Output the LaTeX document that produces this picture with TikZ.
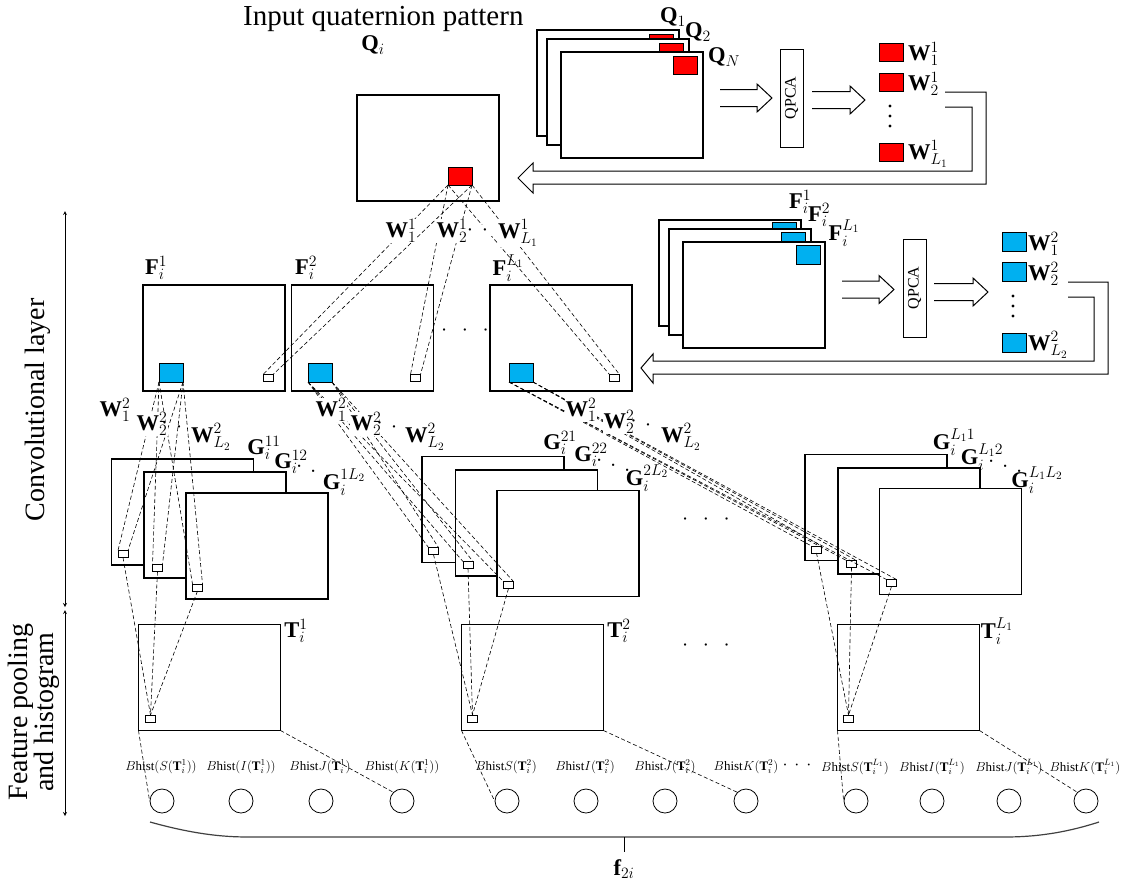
\RequirePackage{fix-cm}
\documentclass[tikz,border=0pt]{standalone}
\usepackage{amsmath}
\usepackage{fontspec}
\setmainfont{Liberation Serif}

\definecolor{patchblue}{RGB}{0,176,240}

\tikzset{
  frame/.style={draw, line width=1.7pt, fill=white, minimum width=142pt, minimum height=106pt, inner sep=0pt, outer sep=0pt},
  redpatch/.style={draw, line width=0.9pt, fill=red, minimum width=24pt, minimum height=18pt, inner sep=0pt, outer sep=0pt},
  bluepatch/.style={redpatch, fill=patchblue, minimum height=19pt},
  cell/.style={draw, line width=0.9pt, fill=white, minimum width=10pt, minimum height=7pt, inner sep=0pt, outer sep=0pt},
  link/.style={line width=0.6pt, dash pattern=on 4pt off 2.5pt},
  wlabel/.style={fill=white, inner sep=0.5pt, font=\fontsize{22.5}{24}\selectfont},
  glabel/.style={inner sep=0pt, font=\fontsize{22.5}{24}\selectfont},
  qpcabox/.style={draw, line width=1pt, minimum width=23pt, minimum height=98pt, inner sep=0pt, font=\fontsize{16}{18}\selectfont},
  hist/.style={circle, draw, line width=0.8pt, minimum size=24pt, inner sep=0pt},
  histlabel/.style={inner sep=0pt, font=\fontsize{13}{15}\selectfont},
  hollow/.style={line width=1pt, line join=miter}
}

% hollow block arrow: start x, tip x, y
\newcommand{\fatarrow}[3]{%
  \draw[hollow] (#1,#3-8.5) -- (#2-15,#3-8.5) -- (#2-15,#3-14) -- (#2,#3)
    -- (#2-15,#3+14) -- (#2-15,#3+8.5) -- (#1,#3+8.5);}

\begin{document}
\begin{tikzpicture}[x=1pt, y=-1pt, >=stealth]

\useasboundingbox (0,0) rectangle (1127,884);

% Input pattern
\node[font=\fontsize{29}{32}\selectfont, anchor=east] (title) at (527,19) {Input quaternion pattern};
\node[glabel] (Qlab) at (373,45) {$\mathbf{Q}_i$};
\node[frame] (Qi) at (428,148) {};
\node[redpatch] (Qp) at (460,176) {};

% Training patterns
\node[frame] (Qs1) at (608,83) {};
\node[redpatch] (Qsp1) at (661,43) {};
\node[frame] (Qs2) at (618,92) {};
\node[redpatch] (Qsp2) at (671,52) {};
\node[frame] (Qs3) at (632,105) {};
\node[redpatch] (Qsp3) at (685,65) {};
\node[glabel] at (673,17) {$\mathbf{Q}_1$};
\node[glabel] at (698,32) {$\mathbf{Q}_2$};
\node[glabel] at (724,57) {$\mathbf{Q}_N$};

% First QPCA
\fatarrow{720}{772}{98}
\node[qpcabox] (qpcaA) at (791.5,98) {\rotatebox{90}{QPCA}};
\fatarrow{812}{865}{100}

% First-stage filters
\node[redpatch] (WA1) at (891,52) {};
\node[redpatch] (WA2) at (891,82) {};
\node[redpatch] (WAL) at (891,152) {};
\node[glabel, anchor=west] at (908,54) {$\mathbf{W}_1^1$};
\node[glabel, anchor=west] at (908,84) {$\mathbf{W}_2^1$};
\node[glabel, anchor=west] at (908,154) {$\mathbf{W}_{L_1}^1$};
\fill (890,106) circle (1.7pt) (890,116) circle (1.7pt) (890,126) circle (1.7pt);

% Feedback arrow 1
\draw[hollow] (945,92) -- (986,92) -- (986,184) -- (533,184) -- (533,193) -- (518,178)
  -- (533,163) -- (533,171) -- (972,171) -- (972,107) -- (945,107);

% First-stage outputs
\node[frame] (F1) at (214,338) {};
\node[frame] (F2) at (362.5,338) {};
\node[frame] (FL) at (561,338) {};
\node[bluepatch] (Fp1) at (171,372.5) {};
\node[bluepatch] (Fp2) at (320,372.5) {};
\node[bluepatch] (FpL) at (521,372.5) {};
\node[cell] (Fc1) at (268,378) {};
\node[cell] (Fc2) at (415.5,378) {};
\node[cell] (FcL) at (614.5,378) {};
\node[glabel] at (156,268) {$\mathbf{F}_i^1$};
\node[glabel] at (306,268) {$\mathbf{F}_i^2$};
\node[glabel] at (508,268) {$\mathbf{F}_i^{L_1}$};
\node[font=\fontsize{22}{24}\selectfont] at (465,331) {$\cdot\;\,\cdot\;\,\cdot$};

% Stack of first-stage outputs
\node[frame] (Fs1) at (730,273) {};
\node[bluepatch] (Fsp1) at (784,232) {};
\node[frame] (Fs2) at (740,282) {};
\node[bluepatch] (Fsp2) at (793,242) {};
\node[frame] (Fs3) at (754,295) {};
\node[bluepatch] (Fsp3) at (808,255) {};
\node[glabel] at (800,202) {$\mathbf{F}_i^1$};
\node[glabel] at (819,215) {$\mathbf{F}_i^2$};
\node[glabel] at (844,233) {$\mathbf{F}_i^{L_1}$};

% Second QPCA
\fatarrow{842}{894}{289.5}
\node[qpcabox] (qpcaB) at (914.5,288) {\rotatebox{90}{QPCA}};
\fatarrow{934}{988}{292}

% Second-stage filters
\node[bluepatch] (WB1) at (1014,242) {};
\node[bluepatch] (WB2) at (1014,272) {};
\node[bluepatch] (WBL) at (1014,342.5) {};
\node[glabel, anchor=west] at (1028,244) {$\mathbf{W}_1^2$};
\node[glabel, anchor=west] at (1028,274) {$\mathbf{W}_2^2$};
\node[glabel, anchor=west] at (1028,345) {$\mathbf{W}_{L_2}^2$};
\fill (1013,296) circle (1.7pt) (1013,306) circle (1.7pt) (1013,316) circle (1.7pt);

% Feedback arrow 2
\draw[hollow] (1068,282) -- (1108,282) -- (1108,374) -- (653,374) -- (653,383) -- (641,368)
  -- (653,354) -- (653,361) -- (1094,361) -- (1094,297) -- (1068,297);

% Second-stage outputs
\node[frame] (G11) at (182.5,512) {};
\node[frame] (G12) at (215,525) {};
\node[frame] (G1L) at (257,546) {};
\node[cell] (g11) at (123,554) {};
\node[cell] (g12) at (157.5,568) {};
\node[cell] (g1L) at (197.5,587.5) {};

\node[frame] (G21) at (493,509.5) {};
\node[frame] (G22) at (526.5,523) {};
\node[frame] (G2L) at (568,543.5) {};
\node[cell] (g21) at (433.5,551) {};
\node[cell] (g22) at (468,565) {};
\node[cell] (g2L) at (508.5,585) {};

\node[frame] (GL1) at (876,507.5) {};
\node[frame] (GL2) at (909,521) {};
\node[frame] (GLL) at (950.5,541.5) {};
\node[cell] (gL1) at (816.5,549.5) {};
\node[cell] (gL2) at (851.5,564) {};
\node[cell] (gLL) at (891.5,583) {};

\node[font=\fontsize{22}{24}\selectfont] at (706,520) {$\cdot\;\,\cdot\;\,\cdot$};

% Pooled maps
\node[frame] (T1) at (209.5,677.5) {};
\node[frame] (T2) at (532.5,677.5) {};
\node[frame] (TL) at (908.5,677.5) {};
\node[cell] (t1) at (150.5,718.5) {};
\node[cell] (t2) at (472.5,718.5) {};
\node[cell] (tL) at (848.5,718.5) {};
\node[glabel] at (296,631) {$\mathbf{T}_i^1$};
\node[glabel] at (619,631) {$\mathbf{T}_i^2$};
\node[glabel] at (997,631) {$\mathbf{T}_i^{L_1}$};
\node[font=\fontsize{22}{24}\selectfont] at (706,646) {$\cdot\;\,\cdot\;\,\cdot$};

% Histogram bins
\foreach \n/\x in {1/162,2/241,3/321,4/402,5/507,6/586,7/665,8/746,9/856,10/932,11/1009,12/1086}
  \node[hist] (h\n) at (\x,801) {};

% Dashed links, first stage
\foreach \c in {Fc1,Fc2,FcL} {
  \draw[link] (Qp.south west) -- (\c.north west);
  \draw[link] (Qp.south east) -- (\c.north east);
}
% Dashed links, second stage
\foreach \c in {g11,g12,g1L} {
  \draw[link] (Fp1.south west) -- (\c.north west);
  \draw[link] (Fp1.south east) -- (\c.north east);
  \draw[link] (\c.south) -- (t1.north);
}
\foreach \c in {g21,g22,g2L} {
  \draw[link] (Fp2.south west) -- (\c.north west);
  \draw[link] (Fp2.south east) -- (\c.north east);
  \draw[link] (\c.south) -- (t2.north);
}
\foreach \c in {gL1,gL2,gLL} {
  \draw[link] (FpL.south west) -- (\c.north west);
  \draw[link] (FpL.south east) -- (\c.north east);
  \draw[link] (\c.south) -- (tL.north);
}
% Dashed links to the histogram
\draw[link] (T1.south west) -- (h1.west);
\draw[link] (T1.south east) -- (h4.north west);
\draw[link] (T2.south west) -- (h5.west);
\draw[link] (T2.south east) -- (h8.north west);
\draw[link] (TL.south west) -- (h9.west);
\draw[link] (TL.south east) -- (h12.north west);

% Filter labels on the links
\node[wlabel] at (401,231) {$\mathbf{W}_1^1$};
\node[wlabel] at (452,231) {$\mathbf{W}_2^1$};
\node[wlabel] at (485,230) {$\cdot\,\cdot\,\cdot$};
\node[wlabel] at (518,233) {$\mathbf{W}_{L_1}^1$};

\node[wlabel] at (115,410) {$\mathbf{W}_1^2$};
\node[wlabel] at (152,424) {$\mathbf{W}_2^2$};
\node[glabel, rotate=-15] at (179,427) {$\cdot\,\cdot\,\cdot$};
\node[wlabel] at (211,437) {$\mathbf{W}_{L_2}^2$};

\node[wlabel] at (331,410) {$\mathbf{W}_1^2$};
\node[wlabel] at (366,424) {$\mathbf{W}_2^2$};
\node[glabel, rotate=-15] at (394,427) {$\cdot\,\cdot\,\cdot$};
\node[wlabel] at (425,437) {$\mathbf{W}_{L_2}^2$};

\node[wlabel] at (581,410) {$\mathbf{W}_1^2$};
\node[wlabel] at (619,422) {$\mathbf{W}_2^2$};
\node[glabel, rotate=-15] at (648,425) {$\cdot\,\cdot\,\cdot$};
\node[wlabel] at (681,437) {$\mathbf{W}_{L_2}^2$};

% Output labels
\node[glabel] at (264,448) {$\mathbf{G}_i^{11}$};
\node[glabel] at (291,462) {$\mathbf{G}_i^{12}$};
\node[glabel, rotate=-20] at (313,472) {$\cdot\,\cdot\,\cdot$};
\node[glabel] at (344,482) {$\mathbf{G}_i^{1L_2}$};

\node[glabel] at (560,443) {$\mathbf{G}_i^{21}$};
\node[glabel] at (591,455) {$\mathbf{G}_i^{22}$};
\node[glabel, rotate=-20] at (613,466) {$\cdot\,\cdot\,\cdot$};
\node[glabel] at (647,478) {$\mathbf{G}_i^{2L_2}$};

\node[glabel] at (954,442) {$\mathbf{G}_i^{L_11}$};
\node[glabel] at (982,457) {$\mathbf{G}_i^{L_12}$};
\node[glabel, rotate=-20] at (1005,467) {$\cdot\,\cdot\,\cdot$};
\node[glabel] at (1037,480) {$\mathbf{G}_i^{L_1L_2}$};

% Histogram labels
\node[histlabel] at (161,767) {$B\mathrm{hist}(S(\mathbf{T}_i^1))$};
\node[histlabel] at (241,767) {$B\mathrm{hist}(I(\mathbf{T}_i^1))$};
\node[histlabel] at (320,767) {$B\mathrm{hist}J(\mathbf{T}_i^1)$};
\node[histlabel] at (402,767) {$B\mathrm{hist}(K(\mathbf{T}_i^1))$};
\node[histlabel] at (506,767) {$B\mathrm{hist}S(\mathbf{T}_i^2)$};
\node[histlabel] at (585,767) {$B\mathrm{hist}I(\mathbf{T}_i^2)$};
\node[histlabel] at (665,767) {$B\mathrm{hist}J(\mathbf{T}_i^2)$};
\node[histlabel] at (746,767) {$B\mathrm{hist}K(\mathbf{T}_i^2)$};
\node[histlabel, font=\fontsize{18}{20}\selectfont] at (797,765) {$\cdot\,\cdot\,\cdot$};
\node[histlabel] at (855,767) {$B\mathrm{hist}S(\mathbf{T}_i^{L_1})$};
\node[histlabel] at (932,767) {$B\mathrm{hist}I(\mathbf{T}_i^{L_1})$};
\node[histlabel] at (1009,767) {$B\mathrm{hist}J(\mathbf{T}_i^{L_1})$};
\node[histlabel] at (1085,767) {$B\mathrm{hist}K(\mathbf{T}_i^{L_1})$};

% Feature vector brace
\coordinate (braceL) at (150,822);
\coordinate (braceR) at (1099,822);
\coordinate (braceM) at (624,837);
\draw[line width=1.2pt, black!75] (braceL) .. controls (200,836) and (230,837) .. (250,837)
  -- (1005,837) .. controls (1035,837) and (1065,833) .. (braceR);
\node[glabel] (f2i) at (624,869) {$\mathbf{f}_{2i}$};
\draw[line width=1pt] (braceM) -- (624,852);

% Layer axis
\draw[<->, line width=0.8pt] (65,211) -- (65,607);
\draw[<->, line width=0.8pt] (65,610) -- (65,816);
\node[rotate=90, font=\fontsize{28}{30}\selectfont] (conv) at (38,410) {Convolutional layer};
\node[rotate=90, align=center, font=\fontsize{28}{26}\selectfont] (pool) at (34,712) {Feature pooling\\and histogram};

\end{tikzpicture}
\end{document}
